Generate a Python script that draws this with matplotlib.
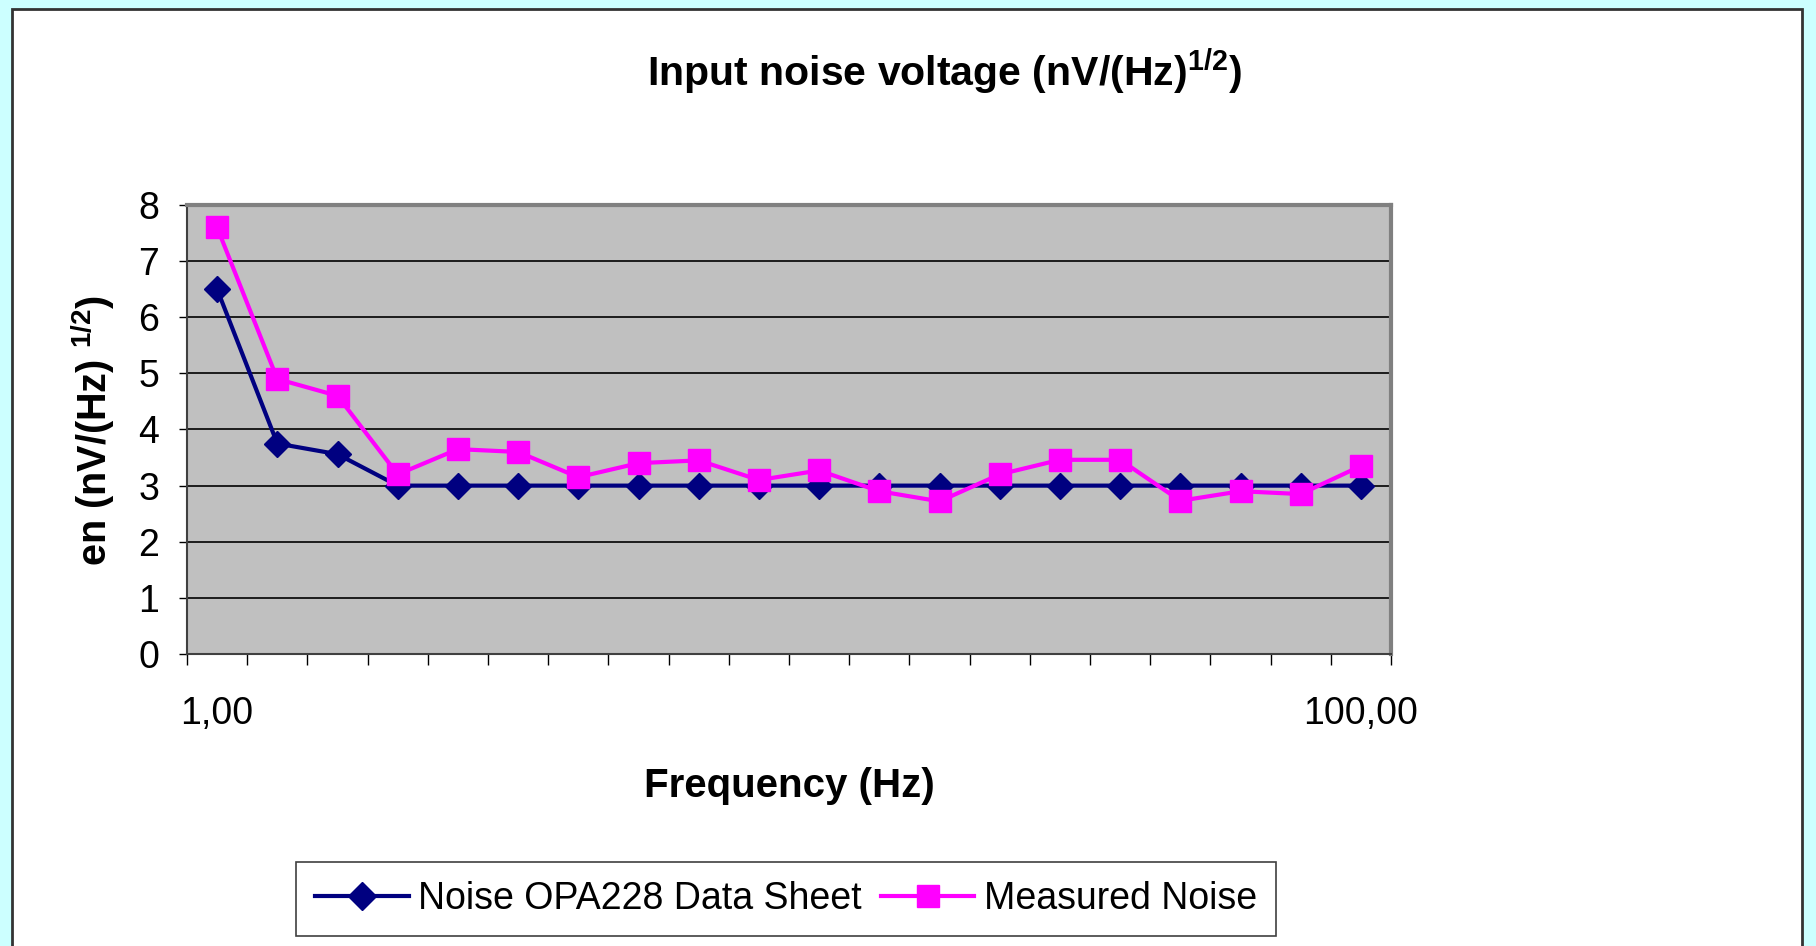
import matplotlib
matplotlib.use("Agg")
import matplotlib.pyplot as plt
import numpy as np
from matplotlib.patches import Rectangle
from matplotlib.lines import Line2D

plt.rcParams["font.family"] = ["Liberation Sans", "DejaVu Sans"]
plt.rcParams["mathtext.fontset"] = "custom"
plt.rcParams["mathtext.rm"] = "Liberation Sans"
plt.rcParams["mathtext.bf"] = "Liberation Sans:bold"

# frequency points (Hz), one category each on the x axis
freq = [1.00, 1.27, 1.62, 2.07, 2.64, 3.36, 4.28, 5.46, 6.95, 8.86,
        11.29, 14.38, 18.33, 23.36, 29.76, 37.93, 48.33, 61.58, 78.48, 100.00]
datasheet = [6.5, 3.75, 3.56, 3.0, 3.0, 3.0, 3.0, 3.0, 3.0, 3.0,
             3.0, 3.0, 3.0, 3.0, 3.0, 3.0, 3.0, 3.0, 3.0, 3.0]
measured = [7.6, 4.9, 4.6, 3.2, 3.65, 3.6, 3.15, 3.4, 3.45, 3.1,
            3.27, 2.9, 2.72, 3.2, 3.46, 3.46, 2.73, 2.9, 2.85, 3.35]
labels = ["Noise OPA228 Data Sheet", "Measured Noise"]

NAVY = "#000080"
MAGENTA = "#FF00FF"

W, H = 1816, 946
fig = plt.figure(figsize=(W / 100, H / 100), dpi=100, facecolor="#CCFFFF")

# white chart area with dark frame, kept behind everything else
frame = Rectangle((12 / W, -0.05), (1802 - 12) / W, 1.05 - 9 / H,
                  transform=fig.transFigure, facecolor="white",
                  edgecolor="#333333", linewidth=2, zorder=-10)
fig.add_artist(frame)

left, right, top, bottom = 187, 1391, 205, 654
ax = fig.add_axes([left / W, 1 - bottom / H, (right - left) / W, (bottom - top) / H])
ax.set_zorder(1)
ax.set_facecolor("#C0C0C0")

x = np.arange(len(freq))
ax.plot(x, datasheet, color=NAVY, lw=3, marker="D", ms=13, mec=NAVY, mfc=NAVY, zorder=3)
ax.plot(x, measured, color=MAGENTA, lw=3, marker="s", ms=16, mec=MAGENTA, mfc=MAGENTA, zorder=4)

ax.set_xlim(-0.5, len(freq) - 0.5)
ax.set_ylim(0, 8)

ax.set_yticks(range(0, 9))
ax.yaxis.grid(True, color="black", lw=1.2)
ax.set_axisbelow(True)
ax.tick_params(axis="y", direction="out", length=6, width=1, labelsize=27, pad=14)

# category labels only at the ends, tick marks on category boundaries
ax.set_xticks([0, len(freq) - 1])
ax.set_xticklabels([f"{freq[0]:.2f}".replace(".", ","), f"{freq[-1]:.2f}".replace(".", ",")])
ax.set_xticks(np.arange(-0.5, len(freq)), minor=True)
ax.tick_params(axis="x", which="major", length=0, labelsize=27, pad=30)
ax.tick_params(axis="x", which="minor", direction="out", length=8, width=1)

for s in ("top", "right"):
    ax.spines[s].set_color("#808080")
    ax.spines[s].set_linewidth(3)
for s in ("left", "bottom"):
    ax.spines[s].set_color("#404040")
    ax.spines[s].set_linewidth(1.5)

fig.text(944 / W, 1 - 72 / H, r"Input noise voltage (nV/(Hz)$^{\mathbf{1/2}}$)",
         ha="center", va="center", fontsize=29.5, fontweight="bold")
fig.text(93 / W, 1 - 430 / H, r"en (nV/(Hz) $^{\mathbf{1/2}}$)", rotation=90,
         ha="center", va="center", fontsize=28.5, fontweight="bold")
fig.text(789 / W, 1 - 786 / H, "Frequency (Hz)", ha="center", va="center",
         fontsize=29, fontweight="bold")

handles = [
    Line2D([], [], color=NAVY, lw=3, marker="D", ms=14, mfc=NAVY, mec=NAVY),
    Line2D([], [], color=MAGENTA, lw=3, marker="s", ms=16, mfc=MAGENTA, mec=MAGENTA),
]
leg = fig.legend(handles, labels, loc="center", bbox_to_anchor=(786 / W, 1 - 899 / H),
                 ncol=2, fontsize=27, frameon=True, fancybox=False, framealpha=1,
                 edgecolor="#404040", handlelength=2.5, handletextpad=0.25,
                 columnspacing=0.5, borderpad=0.5, borderaxespad=0)
leg.get_frame().set_linewidth(1.2)

fig.savefig("out.png", dpi=100, facecolor=fig.get_facecolor())
